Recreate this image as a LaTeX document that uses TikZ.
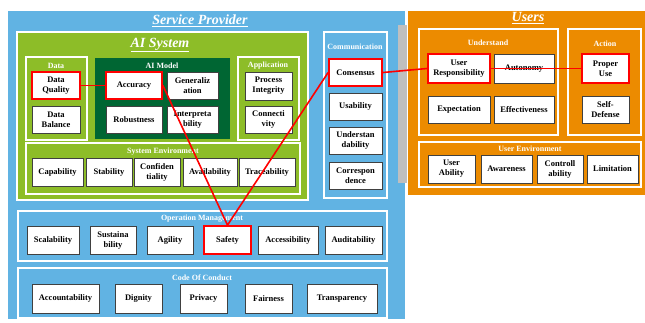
\documentclass[tikz,border=0pt]{standalone}
\usepackage{fontspec}
\setmainfont{Liberation Serif}
\definecolor{spblue}{RGB}{97,179,227}
\definecolor{aigreen}{RGB}{141,189,40}
\definecolor{modelgreen}{RGB}{0,102,51}
\definecolor{userorange}{RGB}{236,139,0}
\definecolor{bandgray}{RGB}{191,191,191}
\definecolor{itemgray}{RGB}{64,64,64}
\begin{document}
\begin{tikzpicture}[x=1pt,y=-1pt,
  attr/.style={draw=itemgray, line width=1pt, fill=white, align=center,
    inner sep=1pt, font=\fontsize{8.5}{10}\selectfont\bfseries},
  pick/.style={draw=red, line width=1.8pt},
  group/.style={draw=white, line width=1.5pt},
  grouplabel/.style={text=white, font=\fontsize{8}{9}\selectfont\bfseries},
  title/.style={text=white, font=\fontsize{14}{16}\selectfont\bfseries\itshape},
  link/.style={red, line width=1.6pt}]

\newcommand\bx[7]{\node[attr,#1,minimum width={(#5-#3)*1pt},
  minimum height={(#6-#4)*1pt}] (#2) at ({(#3+#5)/2},{(#4+#6)/2}) {#7};}

  \useasboundingbox (0,0) rectangle (645,322);

  %% outer frames
  \draw[fill=spblue, draw=white, line width=0.5pt] (7,10) rectangle (405,319);
  \fill[bandgray] (398,25) rectangle (407,183);
  \draw[fill=userorange, draw=white, line width=0.5pt] (407,10) rectangle (645,195);
  \node[title] (sptitle) at (200,21) {\underline{Service Provider}};
  \node[title] (usertitle) at (528,18) {\underline{Users}};

  %% AI system
  \draw[group, fill=aigreen] (17,32) rectangle (308,200);
  \node[title] (aititle) at (160,45) {\underline{AI System}};

  \draw[group] (26,57) rectangle (87,140);
  \node[grouplabel] (datalbl) at (56,66) {Data};
  \bx{pick}{dq}{32}{72}{80}{99}{Data\\Quality}
  \bx{}{db}{32}{106}{80}{133}{Data\\Balance}

  \fill[modelgreen] (95,58) rectangle (230,139);
  \node[grouplabel] (modellbl) at (162,66) {AI Model};
  \bx{pick}{acc}{106}{72}{162}{99}{Accuracy}
  \bx{}{gen}{167}{72}{218}{99}{Generaliz\\ation}
  \bx{}{rob}{106}{106}{162}{133}{Robustness}
  \bx{}{int}{167}{106}{218}{133}{Interpreta\\bility}

  \draw[group] (238,57) rectangle (299,140);
  \node[grouplabel] (applbl) at (268,66) {Application};
  \bx{}{proc}{245}{72}{292}{100}{Process\\Integrity}
  \bx{}{conn}{245}{106}{292}{133}{Connecti\\vity}

  \draw[group] (26,143) rectangle (300,194);
  \node[grouplabel] (envlbl) at (163,152) {System Environment};
  \bx{}{cap}{32}{158}{83}{186}{Capability}
  \bx{}{stab}{86}{158}{132}{186}{Stability}
  \bx{}{conf}{134}{158}{180}{186}{Confiden\\tiality}
  \bx{}{avail}{183}{158}{237}{186}{Availability}
  \bx{}{trace}{239}{158}{295}{186}{Traceability}

  %% communication
  \draw[group] (324,32) rectangle (387,198);
  \node[grouplabel] (commlbl) at (355,47) {Communication};
  \bx{pick}{cons}{329}{59}{382}{86}{Consensus}
  \bx{}{usab}{329}{93}{382}{120}{Usability}
  \bx{}{undst}{329}{127}{382}{154}{Understan\\dability}
  \bx{}{corr}{329}{162}{382}{189}{Correspon\\dence}

  %% operation management
  \draw[group] (18,211) rectangle (387,261);
  \node[grouplabel] (opslbl) at (202,219) {Operation Management};
  \bx{}{scal}{27}{226}{79}{254}{Scalability}
  \bx{}{sust}{90}{226}{136}{254}{Sustaina\\bility}
  \bx{}{agil}{147}{226}{193}{254}{Agility}
  \bx{pick}{safe}{204}{226}{251}{254}{Safety}
  \bx{}{acces}{258}{226}{318}{254}{Accessibility}
  \bx{}{audit}{325}{226}{382}{254}{Auditability}

  %% code of conduct
  \draw[group] (18,268) rectangle (387,318);
  \node[grouplabel] (codelbl) at (202,278) {Code Of Conduct};
  \bx{}{accnt}{32}{284}{99}{313}{Accountability}
  \bx{}{dign}{115}{284}{162}{313}{Dignity}
  \bx{}{priv}{180}{284}{227}{313}{Privacy}
  \bx{}{fair}{245}{284}{292}{313}{Fairness}
  \bx{}{trans}{307}{284}{377}{313}{Transparency}

  %% users
  \draw[group] (419,29) rectangle (558,135);
  \node[grouplabel] (undlbl) at (488,43) {Understand};
  \bx{pick}{uresp}{428}{54}{490}{83}{User\\Responsibility}
  \bx{}{auto}{494}{54}{554}{83}{Autonomy}
  \bx{}{expt}{428}{96}{490}{123}{Expectation}
  \bx{}{effc}{494}{96}{554}{123}{Effectiveness}

  \draw[group] (568,29) rectangle (641,135);
  \node[grouplabel] (actlbl) at (605,44) {Action};
  \bx{pick}{puse}{582}{54}{629}{83}{Proper\\Use}
  \bx{}{sdef}{582}{96}{629}{123}{Self-\\Defense}

  \draw[group] (419,142) rectangle (641,187);
  \node[grouplabel] (uenvlbl) at (530,149) {User Environment};
  \bx{}{uabil}{428}{155}{475}{183}{User\\Ability}
  \bx{}{aware}{481}{155}{532}{183}{Awareness}
  \bx{}{ctrl}{537}{155}{583}{183}{Controll\\ability}
  \bx{}{limit}{587}{155}{638}{183}{Limitation}

  %% red path
  \draw[link] (dq.east) -- (acc.west);
  \draw[link] (acc.east) -- (safe.north) -- (cons.west);
  \draw[link] (cons.east) -- (uresp.west);
  \draw[link] (uresp.east) -- (puse.west);

\end{tikzpicture}
\end{document}
